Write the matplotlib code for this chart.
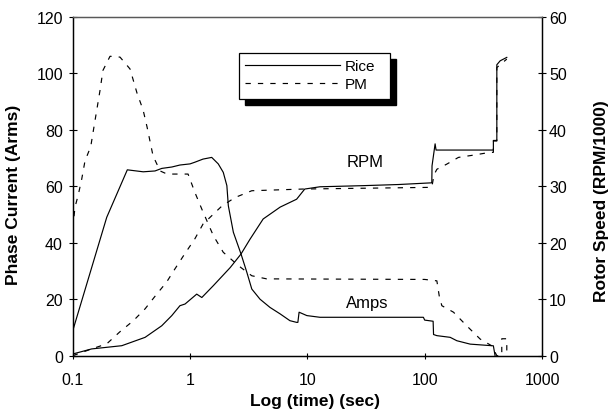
import matplotlib.pyplot as plt
from matplotlib.patches import Rectangle

plt.rcParams['font.family'] = ['Liberation Sans', 'DejaVu Sans']

# Data (time in sec, current in Arms, speed in RPM/1000)
rice_amps_t = [0.1, 0.195, 0.292, 0.399, 0.503, 0.574, 0.7, 0.82, 1.0, 1.1, 1.29, 1.53,
               1.74, 1.92, 2.06, 2.12, 2.34, 2.72, 3.05, 3.36, 3.95, 4.8, 5.86, 7.1,
               8.1, 8.3, 8.5, 9.9, 12.8, 97.5, 100, 118, 119, 127, 165, 188, 244,
               385, 398]
rice_amps = [8.8, 49, 65.8, 65.1, 65.4, 66.3, 66.8, 67.5, 67.9, 68.5, 69.6, 70.2,
             67.9, 64.9, 60.2, 53.1, 43.7, 36, 29.5, 23.6, 20, 17.1, 14.8, 12.4,
             11.8, 11.8, 15.4, 14.2, 13.6, 13.6, 12.6, 12.2, 7.5, 7.1, 6.5, 5.3, 4.1,
             3.5, 0]

pm_amps_t = [0.1, 0.1046, 0.1116, 0.1193, 0.1273, 0.1424, 0.149, 0.171, 0.181, 0.208,
             0.253, 0.308, 0.353, 0.398, 0.43, 0.484, 0.556, 0.637, 0.962, 1.1, 1.26,
             1.58, 1.92, 2.58, 3.36, 4.5, 100, 127, 133, 140, 176, 228, 297, 373,
             412, 454, 454, 501, 501]
pm_amps = [45, 52.6, 57, 62.5, 69, 74, 79, 94, 101, 106,
           105.7, 101.5, 93, 87, 81, 70.7, 65.4, 64.3, 64.3, 57.8, 51.9,
           42.5, 36.6, 31.9, 28.3, 27.2, 27, 26.5, 21.2, 17.7, 15.4, 10.6, 5.9, 3.5,
           0, 0, 6, 6, 0]

rice_rpm_t = [0.1, 0.145, 0.262, 0.414, 0.574, 0.699, 0.82, 0.907, 1.14, 1.26, 1.58,
              2.2, 2.72, 3.24, 4.2, 5.86, 8.1, 9.5, 12.8, 30, 60, 115, 115.5, 122.7,
              125, 385, 385, 412, 412, 440, 501]
rice_rpm = [0.3, 1.2, 1.77, 3.25, 5.3, 7.1, 8.85, 9.15, 10.9, 10.3, 12.4,
            15.6, 18, 20.6, 24.2, 26.3, 27.7, 29.5, 29.9, 30.1, 30.3, 30.6, 33.6, 37.5,
            36.4, 36.4, 38.1, 38.1, 51.5, 52.2, 52.8]

pm_rpm_t = [0.1, 0.145, 0.195, 0.253, 0.329, 0.414, 0.52, 0.63, 0.74, 0.88, 1.1, 1.29,
            1.87, 2.42, 3.36, 9.2, 115, 120, 127, 154, 194, 260, 339, 385, 385, 412,
            412, 501]
pm_rpm = [0, 1.2, 2.1, 4.25, 6.2, 8.3, 10.9, 13, 15.3, 17.7, 20.7, 23.3,
          26.5, 28, 29.2, 29.5, 29.8, 32, 33, 33.9, 35.1, 35.5, 35.9, 36, 38, 38,
          51, 52.5]

x_ticks = [0.1, 1, 10, 100, 1000]
x_tick_labels = ['0.1', '1', '10', '100', '1000']

# Figure and axes
fig = plt.figure(figsize=(6.09, 4.14), dpi=100)
ax = fig.add_axes([0.1194, 0.1384, 0.7706, 0.8188])
ax2 = ax.twinx()

dash = (0, (4.5, 6))
lw = 0.85
ax.plot(rice_amps_t, rice_amps, color='black', lw=lw, label='Rice')
ax.plot(pm_amps_t, pm_amps, color='black', lw=lw, linestyle=dash, label='PM')
ax2.plot(rice_rpm_t, rice_rpm, color='black', lw=lw)
ax2.plot(pm_rpm_t, pm_rpm, color='black', lw=lw, linestyle=dash)

ax.set_xscale('log')
ax.set_xlim(0.1, 1000)
ax.set_ylim(0, 120)
ax2.set_ylim(0, 60)
ax.set_xticks(x_ticks)
ax.set_xticklabels(x_tick_labels)
ax.minorticks_off()
ax.set_yticks(range(0, 121, 20))
ax2.set_yticks(range(0, 61, 10))

ax.tick_params(axis='y', direction='inout', length=6, pad=4, labelsize=11.5)
ax.tick_params(axis='x', direction='inout', length=5, pad=9, labelsize=11.5)
ax2.tick_params(axis='y', direction='inout', length=6, pad=2, labelsize=11.5)
for a in (ax, ax2):
    for s in a.spines.values():
        s.set_linewidth(0.9)
    a.spines['top'].set_color('0.35')

ax.set_xlabel('Log (time) (sec)', fontsize=12.5, fontweight='bold')
ax.set_ylabel('Phase Current (Arms)', fontsize=12.5, fontweight='bold')
ax2.set_ylabel('Rotor Speed (RPM/1000)', fontsize=12.5, fontweight='bold')
ax.xaxis.set_label_coords(0.516, -0.11)
ax.yaxis.set_label_coords(-0.11, 0.477)
ax2.yaxis.set_label_coords(1.111, 0.46)

ax.text(31, 68.6, 'RPM', fontsize=12, ha='center', va='center')
ax.text(32.3, 19, 'Amps', fontsize=12, ha='center', va='center')

# Legend box with solid black drop shadow
x0, x1, y0, y1 = 0.354, 0.676, 0.757, 0.893
ax2.add_patch(Rectangle((x0 + 0.0128, y0 - 0.0177), x1 - x0, y1 - y0,
                        transform=ax.transAxes, facecolor='black', edgecolor='black',
                        zorder=4))
ax2.add_patch(Rectangle((x0, y0), x1 - x0, y1 - y0, transform=ax.transAxes,
                        facecolor='white', edgecolor='black', lw=0.9, zorder=4.5))
leg = ax2.legend(*ax.get_legend_handles_labels(), loc='upper left',
                 bbox_to_anchor=(x0, y1), frameon=False, fontsize=11,
                 handlelength=6.2, handletextpad=0.3, borderpad=0.3,
                 labelspacing=0.25, borderaxespad=0.1)
leg.set_zorder(5)

plt.savefig('out.png', dpi=100)
